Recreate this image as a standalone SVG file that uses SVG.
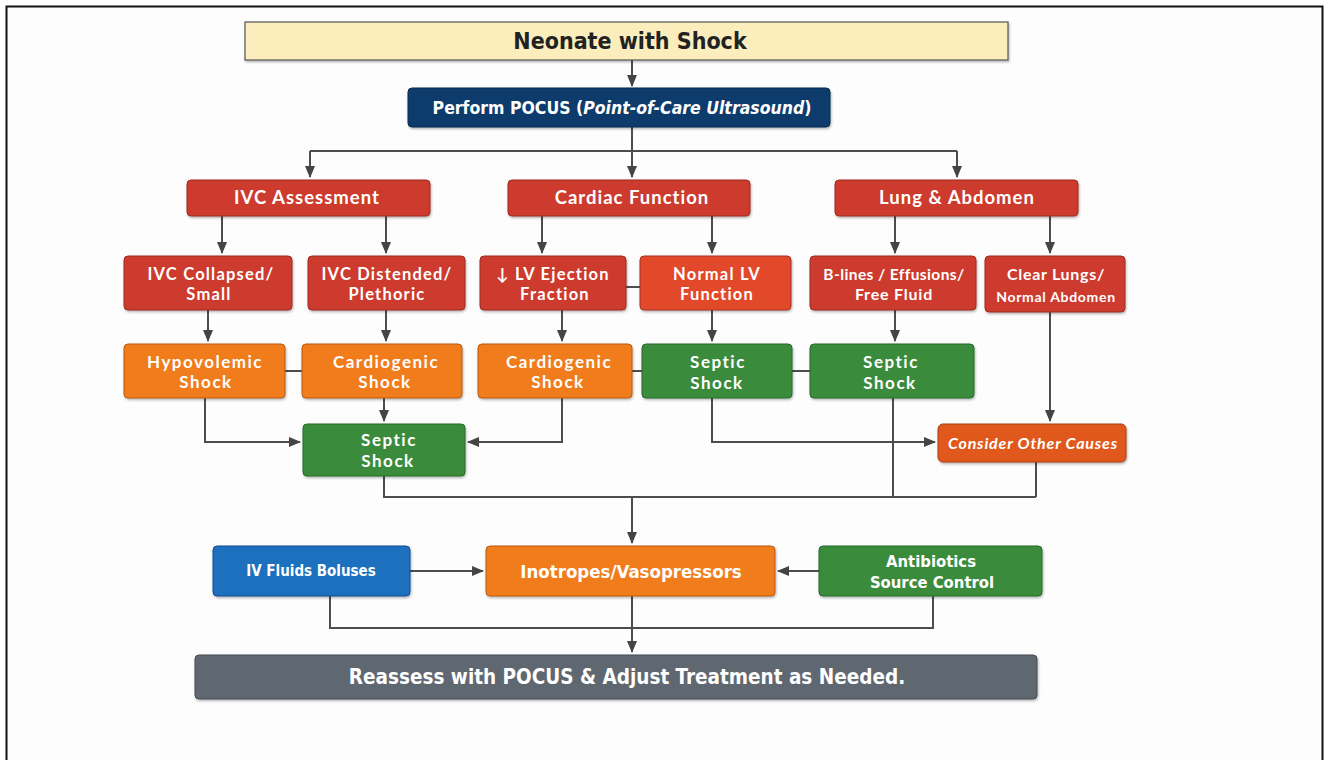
<svg xmlns="http://www.w3.org/2000/svg" width="1325" height="760" viewBox="0 0 1325 760">
<style>
.bx{stroke-width:1}
.red{fill:#cd3a2d;stroke:#9e2a20}
.red2{fill:#e2482c;stroke:#a8321e}
.org{fill:#f07c1f;stroke:#b85a14}
.grn{fill:#3a8b3d;stroke:#276a2b}
.oth{fill:#e0581b;stroke:#a94012}
.blu{fill:#1f6fbd;stroke:#15508c}
.gry{fill:#5f6870;stroke:#454c52}
.t{font-family:Lato,"Open Sans","Noto Sans",sans-serif;font-weight:700;fill:#fff;text-anchor:middle}
.r2{font-size:18.5px;letter-spacing:1px}
.r3{font-size:16.5px;letter-spacing:1.2px}
.r4{font-size:17px;letter-spacing:1.5px}
.c{font-family:"Liberation Sans Narrow","DejaVu Sans Condensed","Liberation Sans",sans-serif;font-weight:700;text-anchor:middle}
.w{fill:#fff}
.ln{fill:none;stroke:#4d4d4d;stroke-width:2}
</style>
<defs>
<marker id="ah" markerUnits="userSpaceOnUse" markerWidth="12" markerHeight="10" refX="11" refY="5" orient="auto">
<path d="M0,0 L12,5 L0,10 z" fill="#444"/>
</marker>
<filter id="sh" x="-5%" y="-10%" width="110%" height="130%">
<feDropShadow dx="0.8" dy="1.5" stdDeviation="1.2" flood-color="#000" flood-opacity="0.3"/>
</filter>
</defs>
<rect x="0" y="0" width="1325" height="760" fill="#ffffff"/>
<rect x="6.5" y="6.5" width="1316" height="770" fill="#fdfdfd" stroke="#111" stroke-width="2"/>

<g id="connectors">
<path class="ln" d="M632,60 V86" marker-end="url(#ah)"/>
<path class="ln" d="M632,127 V151 M310,151 H957"/>
<path class="ln" d="M310,151 V177" marker-end="url(#ah)"/>
<path class="ln" d="M632,151 V177" marker-end="url(#ah)"/>
<path class="ln" d="M957,151 V177" marker-end="url(#ah)"/>
<path class="ln" d="M222,216 V253" marker-end="url(#ah)"/>
<path class="ln" d="M386,216 V253" marker-end="url(#ah)"/>
<path class="ln" d="M542,216 V253" marker-end="url(#ah)"/>
<path class="ln" d="M712,216 V253" marker-end="url(#ah)"/>
<path class="ln" d="M895,216 V253" marker-end="url(#ah)"/>
<path class="ln" d="M1050,216 V253" marker-end="url(#ah)"/>
<path class="ln" d="M626,287 H640"/>
<path class="ln" d="M208,310 V341" marker-end="url(#ah)"/>
<path class="ln" d="M386,310 V341" marker-end="url(#ah)"/>
<path class="ln" d="M562,310 V341" marker-end="url(#ah)"/>
<path class="ln" d="M712,310 V341" marker-end="url(#ah)"/>
<path class="ln" d="M895,310 V341" marker-end="url(#ah)"/>
<path class="ln" d="M1050,312 V421" marker-end="url(#ah)"/>
<path class="ln" d="M285,371 H302 M632,371 H642 M792,371 H810"/>
<path class="ln" d="M205,398 V442 H300" marker-end="url(#ah)"/>
<path class="ln" d="M384,398 V421" marker-end="url(#ah)"/>
<path class="ln" d="M562,398 V442 H468" marker-end="url(#ah)"/>
<path class="ln" d="M712,398 V442 H935" marker-end="url(#ah)"/>
<path class="ln" d="M893,398 V497 M1036,462 V497 M384,476 V497 H1036"/>
<path class="ln" d="M632,497 V543" marker-end="url(#ah)"/>
<path class="ln" d="M410,571 H483" marker-end="url(#ah)"/>
<path class="ln" d="M819,571 H778" marker-end="url(#ah)"/>
<path class="ln" d="M330,596 V628 H933 V596"/>
<path class="ln" d="M632,596 V652" marker-end="url(#ah)"/>
</g>

<g id="n-neonate">
<rect x="245" y="22" width="763" height="38" fill="#fbeebc" stroke="#555" stroke-width="1.2" filter="url(#sh)"/>
<text class="c" x="630" y="49" font-size="23" fill="#222">Neonate with Shock</text>
</g>
<g id="n-pocus">
<rect x="408" y="88" width="422" height="39" rx="4" fill="#0f3b6c" stroke="#0a2a50" filter="url(#sh)"/>
<text class="c w" x="622" y="114" font-size="17.5">Perform POCUS (<tspan font-style="italic">Point-of-Care Ultrasound</tspan>)</text>
</g>

<g id="n-ivc"><rect class="bx red" x="187" y="180" width="243" height="36" rx="4" filter="url(#sh)"/><text class="t r2" x="307" y="204">IVC Assessment</text></g>
<g id="n-cardiac"><rect class="bx red" x="508" y="180" width="242" height="36" rx="4" filter="url(#sh)"/><text class="t r2" x="632" y="204">Cardiac Function</text></g>
<g id="n-lung"><rect class="bx red" x="835" y="180" width="243" height="36" rx="4" filter="url(#sh)"/><text class="t r2" x="957" y="204">Lung &amp; Abdomen</text></g>

<g id="n-ivc-collapsed"><rect class="bx red" x="124" y="256" width="168" height="54" rx="4" filter="url(#sh)"/><text class="t r3" x="211" y="280">IVC Collapsed/</text><text class="t r3" x="209" y="300">Small</text></g>
<g id="n-ivc-distended"><rect class="bx red" x="308" y="256" width="157" height="54" rx="4" filter="url(#sh)"/><text class="t r3" x="387" y="280">IVC Distended/</text><text class="t r3" x="387" y="300">Plethoric</text></g>
<g id="n-lvef"><rect class="bx red" x="480" y="256" width="146" height="54" rx="4" filter="url(#sh)"/><text class="t r3" x="553" y="280">↓ LV Ejection</text><text class="t r3" x="555" y="300">Fraction</text></g>
<g id="n-normallv"><rect class="bx red2" x="640" y="256" width="151" height="54" rx="4" filter="url(#sh)"/><text class="t r3" x="717" y="280">Normal LV</text><text class="t r3" x="717" y="300">Function</text></g>
<g id="n-blines"><rect class="bx red" x="810" y="256" width="166" height="54" rx="4" filter="url(#sh)"/><text class="t" x="894" y="280" font-size="15.5" letter-spacing="0.4">B-lines / Effusions/</text><text class="t" x="894" y="300" font-size="16" letter-spacing="0.8">Free Fluid</text></g>
<g id="n-clear"><rect class="bx red" x="985" y="256" width="140" height="56" rx="4" filter="url(#sh)"/><text class="t" x="1056" y="280" font-size="16" letter-spacing="0.7">Clear Lungs/</text><text class="t" x="1056" y="302" font-size="14" letter-spacing="0.7">Normal Abdomen</text></g>

<g id="n-hypo"><rect class="bx org" x="124" y="344" width="161" height="54" rx="4" filter="url(#sh)"/><text class="t r4" x="205" y="368">Hypovolemic</text><text class="t r4" x="206" y="388">Shock</text></g>
<g id="n-cardio1"><rect class="bx org" x="302" y="344" width="160" height="54" rx="4" filter="url(#sh)"/><text class="t r4" x="386" y="368">Cardiogenic</text><text class="t r4" x="385" y="388">Shock</text></g>
<g id="n-cardio2"><rect class="bx org" x="478" y="344" width="154" height="54" rx="4" filter="url(#sh)"/><text class="t r4" x="559" y="368">Cardiogenic</text><text class="t r4" x="558" y="388">Shock</text></g>
<g id="n-septic1"><rect class="bx grn" x="642" y="344" width="150" height="54" rx="4" filter="url(#sh)"/><text class="t r4" x="718" y="368">Septic</text><text class="t r4" x="717" y="389">Shock</text></g>
<g id="n-septic2"><rect class="bx grn" x="810" y="344" width="164" height="54" rx="4" filter="url(#sh)"/><text class="t r4" x="891" y="368">Septic</text><text class="t r4" x="890" y="389">Shock</text></g>

<g id="n-septic-center"><rect class="bx grn" x="303" y="424" width="162" height="52" rx="4" filter="url(#sh)"/><text class="t r4" x="389" y="446">Septic</text><text class="t r4" x="388" y="467">Shock</text></g>
<g id="n-other"><rect class="bx oth" x="938" y="424" width="188" height="38" rx="5" filter="url(#sh)"/><text class="t" x="1033" y="449" font-size="16" font-style="italic" letter-spacing="0.8">Consider Other Causes</text></g>

<g id="n-fluids"><rect class="bx blu" x="213" y="546" width="197" height="50" rx="4" filter="url(#sh)"/><text class="c w" x="311" y="576" font-size="15">IV Fluids Boluses</text></g>
<g id="n-inotropes"><rect class="bx org" x="486" y="546" width="289" height="50" rx="4" filter="url(#sh)"/><text class="c w" x="631" y="578" font-size="18.5">Inotropes/Vasopressors</text></g>
<g id="n-antibiotics"><rect class="bx grn" x="819" y="546" width="223" height="50" rx="4" filter="url(#sh)"/><text class="c w" x="931" y="567" font-size="16.5">Antibiotics</text><text class="c w" x="932" y="588" font-size="16.5">Source Control</text></g>

<g id="n-reassess"><rect class="bx gry" x="195" y="655" width="842" height="44" rx="4" filter="url(#sh)"/><text class="c w" x="627" y="684" font-size="20.5">Reassess with POCUS &amp; Adjust Treatment as Needed.</text></g>
</svg>
